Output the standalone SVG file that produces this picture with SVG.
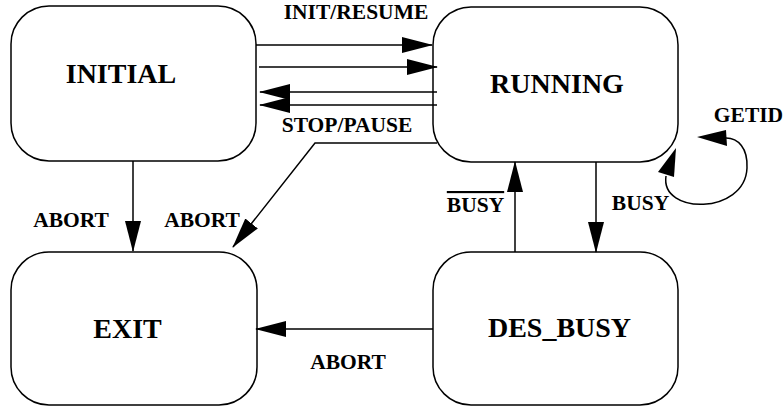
<svg xmlns="http://www.w3.org/2000/svg" width="783" height="407" viewBox="0 0 783 407">
  <style>
    .state { fill: #ffffff; stroke: #000000; stroke-width: 1.5; }
    .name { font-family: "Liberation Serif", "Times New Roman", serif; font-weight: bold; font-size: 28px; fill: #000000; text-anchor: middle; }
    .edge { fill: none; stroke: #000000; stroke-width: 1.5; }
    .label { font-family: "Liberation Serif", "Times New Roman", serif; font-weight: bold; font-size: 21.5px; fill: #000000; text-anchor: middle; }
    .head { fill: #000000; stroke: none; }
  </style>
  <defs>
    <marker id="arrow" markerUnits="userSpaceOnUse" markerWidth="31" markerHeight="16" refX="30" refY="8" orient="auto" viewBox="0 0 31 16">
      <path d="M0,0 L31,8 L0,16 z" fill="#000000"/>
    </marker>
  </defs>

  <!-- states -->
  <g id="initial">
    <rect class="state" x="11" y="6" width="245" height="155" rx="38" ry="38"/>
    <text class="name" x="121" y="83">INITIAL</text>
  </g>
  <g id="running">
    <rect class="state" x="433" y="7" width="245" height="155" rx="38" ry="38"/>
    <text class="name" x="557" y="93">RUNNING</text>
  </g>
  <g id="exit">
    <rect class="state" x="11" y="252" width="246" height="153" rx="38" ry="38"/>
    <text class="name" x="127.5" y="338">EXIT</text>
  </g>
  <g id="des_busy">
    <rect class="state" x="433" y="252" width="245" height="153" rx="38" ry="38"/>
    <text class="name" x="559.5" y="337">DES_BUSY</text>
  </g>

  <!-- transitions -->
  <g id="connectors">
    <line class="edge" x1="256" y1="45" x2="432" y2="45" marker-end="url(#arrow)"/>
    <line class="edge" x1="259" y1="67" x2="437" y2="67" marker-end="url(#arrow)"/>
    <line class="edge" x1="437" y1="92" x2="260" y2="92" marker-end="url(#arrow)"/>
    <line class="edge" x1="437" y1="105" x2="260" y2="105" marker-end="url(#arrow)"/>
    <polyline class="edge" points="437,143 315,143 233,247" marker-end="url(#arrow)"/>
    <line class="edge" x1="133" y1="161" x2="133" y2="251" marker-end="url(#arrow)"/>
    <line class="edge" x1="515" y1="252" x2="515" y2="162" marker-end="url(#arrow)"/>
    <line class="edge" x1="596" y1="162" x2="596" y2="252" marker-end="url(#arrow)"/>
    <line class="edge" x1="433" y1="329" x2="256" y2="329" marker-end="url(#arrow)"/>
    <!-- GETID self-loop on RUNNING -->
    <path class="edge" d="M666,176 C660,215 745,215 747,168 C748,148 738,138 726,138"/>
    <polygon class="head" points="676,148 658,172 674,177"/>
    <polygon class="head" points="697,137 726,130 727,146"/>

    <text class="label" x="356" y="19">INIT/RESUME</text>
    <text class="label" x="347" y="132">STOP/PAUSE</text>
    <text class="label" x="71" y="227">ABORT</text>
    <text class="label" x="202" y="227">ABORT</text>
    <text class="label" x="348" y="369">ABORT</text>
    <text class="label" x="475.5" y="212" text-decoration="overline">BUSY</text>
    <text class="label" x="640.5" y="210">BUSY</text>
    <text class="label" x="748.5" y="122">GETID</text>
  </g>
</svg>
